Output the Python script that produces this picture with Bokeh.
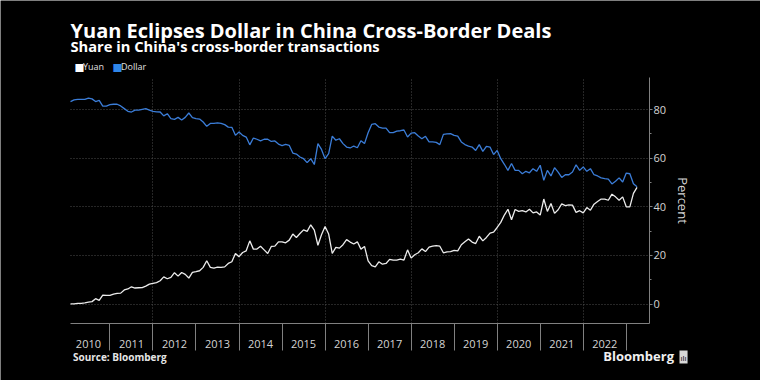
import pandas as pd
from bokeh.plotting import figure
from bokeh.models import (Range1d, FixedTicker, CustomJSTickFormatter, Label, Grid)
from bokeh.embed import file_html
from bokeh.resources import INLINE

# ---------------- data (monthly, share in %, from Feb 2010) ----------------
start_month = "2010-02-01"

yuan = [
    # 2010 (Feb-Dec)
    0.1, 0.1, 0.3, 0.3, 0.5, 0.8, 1.0, 2.2, 1.5, 3.7, 3.6,
    # 2011
    3.6, 4.1, 4.4, 4.5, 5.8, 6.2, 7.1, 6.6, 6.7, 6.8, 7.4, 8.2,
    # 2012
    8.5, 8.8, 9.6, 11.2, 10.4, 11.0, 12.9, 11.5, 13.0, 12.2, 10.7, 13.0,
    # 2013
    13.3, 13.7, 15.1, 17.8, 15.1, 14.8, 15.2, 15.1, 15.3, 16.7, 17.4, 20.8,
    # 2014
    19.5, 21.2, 21.9, 26.0, 22.6, 22.6, 23.8, 22.3, 20.8, 23.7, 23.8, 25.6,
    # 2015
    25.6, 25.2, 26.3, 28.8, 27.4, 29.0, 30.5, 29.9, 32.6, 30.4, 24.2, 28.5,
    # 2016
    31.9, 28.8, 20.8, 23.3, 23.0, 24.4, 26.5, 25.5, 24.7, 25.6, 22.6, 23.7,
    # 2017
    17.8, 15.8, 15.3, 17.4, 16.4, 16.7, 18.4, 18.1, 18.1, 18.5, 18.1, 22.3,
    # 2018
    18.9, 20.3, 21.1, 22.7, 21.6, 23.4, 23.8, 24.0, 23.8, 21.1, 21.5, 21.6,
    # 2019
    22.1, 21.9, 24.4, 25.6, 26.8, 25.5, 24.9, 27.9, 26.0, 27.4, 29.2, 29.6,
    # 2020
    31.5, 33.6, 36.6, 39.0, 34.7, 38.9, 38.1, 38.4, 37.9, 39.0, 37.5, 37.9,
    # 2021
    36.6, 43.2, 38.1, 41.4, 37.3, 38.8, 41.2, 40.5, 40.8, 40.7, 37.7, 38.4,
    # 2022
    37.5, 39.7, 38.6, 41.1, 42.2, 43.2, 43.2, 42.7, 45.2, 44.1, 42.7, 44.1,
    # 2023 (Jan-Apr)
    40.0, 40.0, 45.5, 48.0,
]

dollar = [
    # 2010 (Feb-Dec)
    83.3, 84.0, 84.2, 84.2, 84.2, 84.7, 84.4, 83.3, 83.8, 81.4, 81.4,
    # 2011
    82.0, 82.2, 82.2, 81.5, 80.4, 79.3, 79.0, 79.8, 79.8, 80.1, 80.4, 79.8,
    # 2012
    79.3, 79.1, 79.0, 77.4, 78.3, 76.3, 76.0, 76.8, 75.7, 76.8, 78.6, 76.7,
    # 2013
    76.3, 76.1, 74.9, 73.1, 74.3, 74.3, 74.5, 74.3, 73.8, 72.8, 72.7, 69.4,
    # 2014
    70.8, 69.4, 68.7, 65.5, 68.3, 67.8, 67.1, 67.8, 67.8, 66.9, 67.1, 65.8,
    # 2015
    65.2, 65.7, 65.3, 62.1, 61.7, 60.5, 59.8, 58.2, 59.8, 57.4, 66.0, 63.6,
    # 2016
    59.8, 61.9, 69.1, 67.4, 68.0, 66.0, 64.6, 64.2, 65.0, 64.3, 67.2, 66.0,
    # 2017
    70.5, 73.9, 74.2, 72.8, 72.4, 72.4, 70.5, 70.5, 71.1, 71.3, 71.6, 68.7,
    # 2018
    70.3, 70.5, 69.1, 68.0, 69.0, 66.7, 66.7, 66.5, 65.6, 69.8, 70.0, 70.1,
    # 2019
    69.4, 69.1, 66.7, 65.6, 65.0, 64.6, 63.2, 65.6, 62.8, 64.9, 64.6, 61.5,
    # 2020
    63.2, 59.8, 57.5, 55.0, 57.8, 55.0, 55.0, 53.6, 54.6, 54.0, 55.7, 54.6,
    # 2021
    57.1, 50.9, 55.0, 52.7, 56.1, 54.3, 52.1, 53.2, 53.2, 54.3, 57.3, 55.0,
    # 2022
    56.4, 54.6, 55.7, 53.2, 52.7, 51.9, 51.6, 51.4, 49.4, 50.5, 51.9, 50.2,
    # 2023 (Jan-Apr)
    53.9, 53.6, 49.5, 48.3,
]

year_labels = list(range(2010, 2023))       # labelled years (centred in each year)
year_bounds = list(range(2011, 2024))       # year boundary ticks
grid_years = list(range(2012, 2023, 2))     # vertical dotted grid lines
y_ticks = [0, 20, 40, 60, 80]
y_minor = [10, 30, 50, 70]
series_names = ["Yuan", "Dollar"]
series_colors = ["#ececec", "#3b7dd8"]
swatch_colors = ["#ffffff", "#2f86e8"]

dates = pd.date_range(start_month, periods=len(yuan), freq="MS")
xs = list(dates.year + (dates.month - 1) / 12.0)

# ---------------- geometry ----------------
W, H = 760, 380
# chart area (pixels in the canvas) and its data extent
AREA_L, AREA_R, AREA_T, AREA_B = 70, 649, 77, 323
X_MIN, X_MAX = 2010 + 1 / 12.0, 2023.54
Y_MIN, Y_MAX = -8.0, 93.2
xpp = (X_MAX - X_MIN) / (AREA_R - AREA_L)
ypp = (Y_MAX - Y_MIN) / (AREA_B - AREA_T)
x_lo, x_hi = X_MIN - AREA_L * xpp, X_MAX + (W - AREA_R) * xpp
y_lo, y_hi = Y_MIN - (H - AREA_B) * ypp, Y_MAX + AREA_T * ypp

FONT = "Open Sans"
AXIS_GREY = "#808080"
TEXT_GREY = "#d4d4d4"

p = figure(width=W, height=H, output_backend="svg", toolbar_location=None,
           x_range=Range1d(x_lo, x_hi), y_range=Range1d(y_lo, y_hi),
           y_axis_location="right",
           background_fill_color="black", border_fill_color="black",
           outline_line_color=None, min_border=0)

# x axis (drawn at the bottom of the chart area)
xa = p.xaxis[0]
xa.fixed_location = Y_MIN
xa.bounds = (X_MIN, X_MAX)
xa.ticker = FixedTicker(ticks=[y + 0.5 for y in year_labels], minor_ticks=year_bounds)
xa.formatter = CustomJSTickFormatter(code="return String(Math.floor(tick));")
xa.axis_line_color = AXIS_GREY
xa.major_tick_out = 0
xa.major_tick_in = 0
xa.major_tick_line_color = None
xa.minor_tick_out = 27
xa.minor_tick_in = 0
xa.minor_tick_line_color = AXIS_GREY
xa.major_label_standoff = -11
xa.major_label_text_font = FONT
xa.major_label_text_font_size = "11px"
xa.major_label_text_color = TEXT_GREY

# y axis (right edge of the chart area)
ya = p.yaxis[0]
ya.fixed_location = X_MAX
ya.bounds = (Y_MIN, Y_MAX)
ya.ticker = FixedTicker(ticks=y_ticks, minor_ticks=y_minor)
ya.axis_line_color = AXIS_GREY
ya.major_tick_out = 3
ya.major_tick_in = 0
ya.major_tick_line_color = AXIS_GREY
ya.minor_tick_out = 2
ya.minor_tick_in = 0
ya.minor_tick_line_color = AXIS_GREY
ya.major_label_standoff = 1
ya.major_label_text_font = FONT
ya.major_label_text_font_size = "11px"
ya.major_label_text_color = TEXT_GREY
ya.axis_label = "Percent"
ya.axis_label_text_font = FONT
ya.axis_label_text_font_style = "normal"
ya.axis_label_text_font_size = "13px"
ya.axis_label_text_color = TEXT_GREY
ya.axis_label_standoff = 5

# grids
p.xgrid.ticker = FixedTicker(ticks=grid_years)
GRID_COLOR = "#4d4d4d"
if "cross_bounds" in Grid.properties():
    p.xgrid.cross_bounds = (Y_MIN, Y_MAX)
    p.ygrid.cross_bounds = (X_MIN, X_MAX)
    for g in (p.xgrid[0], p.ygrid[0]):
        g.grid_line_color = GRID_COLOR
        g.grid_line_dash = "1 2"
        g.grid_line_width = 1
else:
    p.xgrid.visible = False
    p.ygrid.visible = False
    p.segment(x0=grid_years, x1=grid_years, y0=[Y_MIN] * len(grid_years),
              y1=[Y_MAX] * len(grid_years), line_color=GRID_COLOR, line_dash="1 2")
    p.segment(x0=[X_MIN] * len(y_ticks), x1=[X_MAX] * len(y_ticks), y0=y_ticks,
              y1=y_ticks, line_color=GRID_COLOR, line_dash="1 2")

# lines
p.line(xs, dollar, line_color=series_colors[1], line_width=1.3)
p.line(xs, yuan, line_color=series_colors[0], line_width=1.3)

# titles, legend and footer (canvas pixel positions, measured from the top)
def add_label(text, x, y_top, size, style="normal", color="white", align="left",
              font=FONT, **kw):
    p.add_layout(Label(x=x, y=H - y_top, x_units="screen", y_units="screen", text=text,
                       text_font=font, text_font_size=size, text_font_style=style,
                       text_color=color, text_align=align, text_baseline="alphabetic",
                       **kw))

add_label("Yuan Eclipses Dollar in China Cross-Border Deals", 70, 30, "20px", "bold")
add_label("Share in China's cross-border transactions", 70, 45.7, "14.7px", "bold")

# legend: swatch + name
add_label("\u25a0", 74, 66.5, "10.5px", color=swatch_colors[0], font="DejaVu Sans")
add_label(series_names[0], 82.5, 66, "9px", color="#e0e0e0")
add_label("\u25a0", 112, 66.5, "10.5px", color=swatch_colors[1], font="DejaVu Sans")
add_label(series_names[1], 120.5, 66, "9px", color="#e0e0e0")

add_label("Source: Bloomberg", 72.5, 356.5, "10px", "bold", "#e6e6e6")
add_label("Bloomberg", 673.5, 355.5, "13px", "bold", "#f0f0f0", "right")
icon_kw = dict(background_fill_color="#d9d9d9")
if "padding" in Label.properties():
    icon_kw["padding"] = 1
add_label("ılı", 679, 356.5, "8px", color="black", **icon_kw)

open("out.html", "w").write(file_html(p, INLINE))
